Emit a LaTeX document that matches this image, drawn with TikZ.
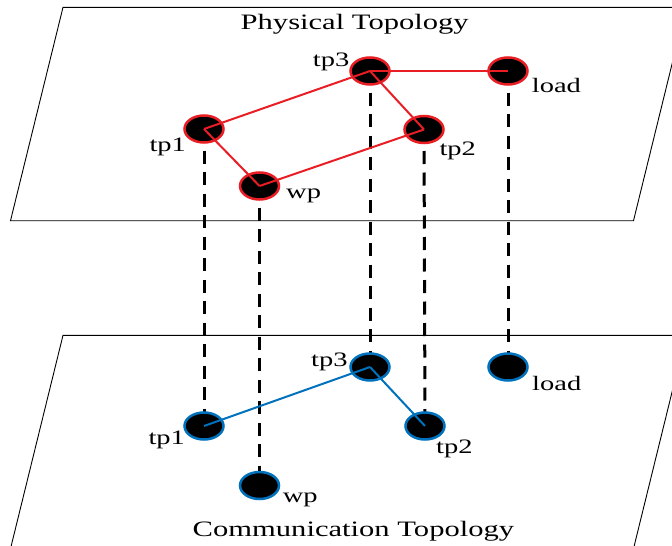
\documentclass[tikz,border=0pt]{standalone}
\usepackage{fontspec}
\setmainfont{Liberation Serif}[FakeStretch=1.39]
\usetikzlibrary{shapes.geometric,backgrounds}
\definecolor{physred}{RGB}{232,30,36}
\definecolor{commblue}{RGB}{0,114,189}
\tikzset{
  plane/.style={draw=black,line width=0.9pt},
  vlink/.style={draw=black,line width=3pt,dash pattern=on 13pt off 8.5pt},
  bus/.style={shape=ellipse,fill=black,line width=2.5pt,minimum width=39pt,minimum height=27pt,inner sep=0pt},
  pbus/.style={bus,draw=physred},
  cbus/.style={bus,draw=commblue},
  pline/.style={draw=physred,line width=2pt},
  cline/.style={draw=commblue,line width=2pt},
  tag/.style={anchor=base west,inner sep=0pt,font=\fontsize{20.5}{24}\selectfont},
  title/.style={anchor=base,inner sep=0pt,font=\fontsize{22}{26}\selectfont}
}
\begin{document}
\begin{tikzpicture}[x=1pt,y=-1pt]
\useasboundingbox (0,0) rectangle (672,546);
\clip (0,0) rectangle (672,546);

% buses of the physical layer
\node[pbus] (ptp3) at (370,71) {};
\node[pbus] (pload) at (508,71) {};
\node[pbus] (ptp1) at (204,129) {};
\node[pbus] (ptp2) at (424,129.5) {};
\node[pbus] (pwp) at (259.5,186) {};

% buses of the communication layer
\node[cbus] (ctp3) at (370,367) {};
\node[cbus] (cload) at (508,367) {};
\node[cbus] (ctp1) at (204,426) {};
\node[cbus] (ctp2) at (425,426) {};
\node[cbus] (cwp) at (259.5,485.5) {};

\begin{scope}[on background layer]
  % the two planes
  \draw[plane] (63,7.3) -- (686,7.3) -- (633.5,220.7) -- (10.5,220.7) -- cycle;
  \draw[plane] (63,335.3) -- (686,335.3) -- (633.5,548.7) -- (10.5,548.7) -- cycle;
  % vertical correspondences between the layers
  \draw[vlink] (ptp1.center) -- (ctp1.center);
  \draw[vlink] (pwp.center) -- (cwp.center);
  \draw[vlink] (ptp3.center) -- (ctp3.center);
  \draw[vlink] (ptp2.center) -- (ctp2.center);
  \draw[vlink] (pload.center) -- (cload.center);
\end{scope}

% physical lines
\draw[pline] (ptp1.center) -- (ptp3.center);
\draw[pline] (ptp3.center) -- (pload.center);
\draw[pline] (ptp3.center) -- (ptp2.center);
\draw[pline] (ptp1.center) -- (pwp.center);
\draw[pline] (pwp.center) -- (ptp2.center);

% communication links
\draw[cline] (ctp1.center) -- (ctp3.center);
\draw[cline] (ctp3.center) -- (ctp2.center);

% titles
\node[title] (tphys) at (354.7,29) {Physical Topology};
\node[title] (tcomm) at (353.4,536) {Communication Topology};

% labels, physical layer
\node[tag] (lptp3) at (312.7,66) {tp3};
\node[tag] (lptp1) at (149.3,151.7) {tp1};
\node[tag] (lptp2) at (439.3,155.7) {tp2};
\node[tag] (lpwp) at (286,198.3) {wp};
\node[tag] (lpload) at (531.7,92.3) {load};

% labels, communication layer
\node[tag] (lctp3) at (311,366) {tp3};
\node[tag] (lctp1) at (148.3,444) {tp1};
\node[tag] (lctp2) at (436,453.3) {tp2};
\node[tag] (lcwp) at (282.7,502.3) {wp};
\node[tag] (lcload) at (532,390.7) {load};
\end{tikzpicture}
\end{document}
